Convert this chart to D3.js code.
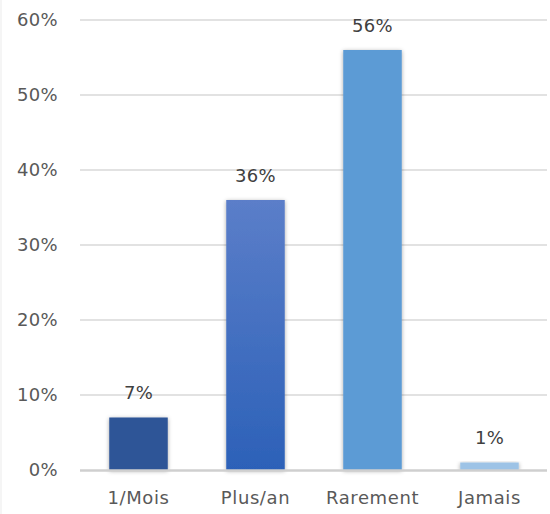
<!DOCTYPE html>
<html>
<head>
<meta charset="utf-8">
<script src="https://cdn.jsdelivr.net/npm/d3@7"></script>
<style>
  html, body { margin: 0; padding: 0; background: #fff; }
  svg { display: block; }
</style>
</head>
<body>
<div id="chart"></div>
<script>
// data
const categories = ["1/Mois", "Plus/an", "Rarement", "Jamais"];
const values = [0.07, 0.36, 0.56, 0.01];
const yTicks = [0, 0.1, 0.2, 0.3, 0.4, 0.5, 0.6];

const width = 550, height = 514;
const margin = {top: 20, right: 2, bottom: 44, left: 80};

const svg = d3.select("#chart")
    .append("svg")
    .attr("width", width)
    .attr("height", height);

const defs = svg.append("defs");

// soft shadow like the office chart
const shadow = defs.append("filter")
    .attr("id", "shadow")
    .attr("x", "-30%").attr("y", "-10%")
    .attr("width", "160%").attr("height", "120%");
shadow.append("feDropShadow")
    .attr("dx", 0).attr("dy", 1)
    .attr("stdDeviation", 2.2)
    .attr("flood-color", "#000")
    .attr("flood-opacity", 0.35);

// gradient for the second bar
const grad = defs.append("linearGradient")
    .attr("id", "gradPlus")
    .attr("x1", 0).attr("y1", 0).attr("x2", 0).attr("y2", 1);
grad.append("stop").attr("offset", "0%").attr("stop-color", "#5B7EC9");
grad.append("stop").attr("offset", "100%").attr("stop-color", "#2C61B8");

const fills = ["#2F5597", "url(#gradPlus)", "#5B9BD5", "#9DC3E6"];

const x = d3.scaleBand()
    .domain(categories)
    .range([margin.left, width - margin.right])
    .paddingInner(0.5)
    .paddingOuter(0.25);

const y = d3.scaleLinear()
    .domain([0, 0.6])
    .range([height - margin.bottom, margin.top]);

// faint chart border on the left
svg.append("line")
    .attr("x1", 1).attr("x2", 1)
    .attr("y1", 0).attr("y2", height)
    .attr("stroke", "#EBEBEB")
    .attr("stroke-width", 1);

// gridlines
svg.append("g")
    .selectAll("line")
    .data(yTicks.filter(d => d > 0))
    .join("line")
    .attr("x1", margin.left)
    .attr("x2", width - margin.right - 1)
    .attr("y1", d => y(d))
    .attr("y2", d => y(d))
    .attr("stroke", "#D9D9D9")
    .attr("stroke-width", 1.6);

// y axis labels
const yAxis = svg.append("g")
    .attr("transform", `translate(${margin.left},0)`)
    .call(d3.axisLeft(y).tickValues(yTicks).tickFormat(d3.format(".0%")).tickSize(0).tickPadding(22));
yAxis.select(".domain").remove();
yAxis.selectAll("text")
    .attr("fill", "#595959")
    .style("font-family", "'DejaVu Sans', sans-serif")
    .style("font-size", "18px")
    .style("letter-spacing", "0.3px");

// bars
svg.append("g")
    .selectAll("rect")
    .data(values)
    .join("rect")
    .attr("x", (d, i) => x(categories[i]))
    .attr("y", d => y(d))
    .attr("width", x.bandwidth())
    .attr("height", d => y(0) - y(d))
    .attr("fill", (d, i) => fills[i])
    .attr("filter", "url(#shadow)");

// baseline
svg.append("line")
    .attr("x1", margin.left)
    .attr("x2", width - margin.right - 1)
    .attr("y1", y(0) + 0.5)
    .attr("y2", y(0) + 0.5)
    .attr("stroke", "#CFCFCF")
    .attr("stroke-width", 2.5);

// value labels
svg.append("g")
    .selectAll("text")
    .data(values)
    .join("text")
    .attr("x", (d, i) => x(categories[i]) + x.bandwidth() / 2)
    .attr("y", d => y(d) - 18.5)
    .attr("text-anchor", "middle")
    .attr("fill", "#404040")
    .style("font-family", "'DejaVu Sans', sans-serif")
    .style("font-size", "18px")
    .style("letter-spacing", "0.3px")
    .text(d => d3.format(".0%")(d));

// x axis labels
const xAxis = svg.append("g")
    .attr("transform", `translate(0,${y(0)})`)
    .call(d3.axisBottom(x).tickSize(0).tickPadding(21));
xAxis.select(".domain").remove();
xAxis.selectAll("text")
    .attr("fill", "#595959")
    .style("font-family", "'DejaVu Sans', sans-serif")
    .style("font-size", "18px")
    .style("letter-spacing", "0.6px");
</script>
</body>
</html>
